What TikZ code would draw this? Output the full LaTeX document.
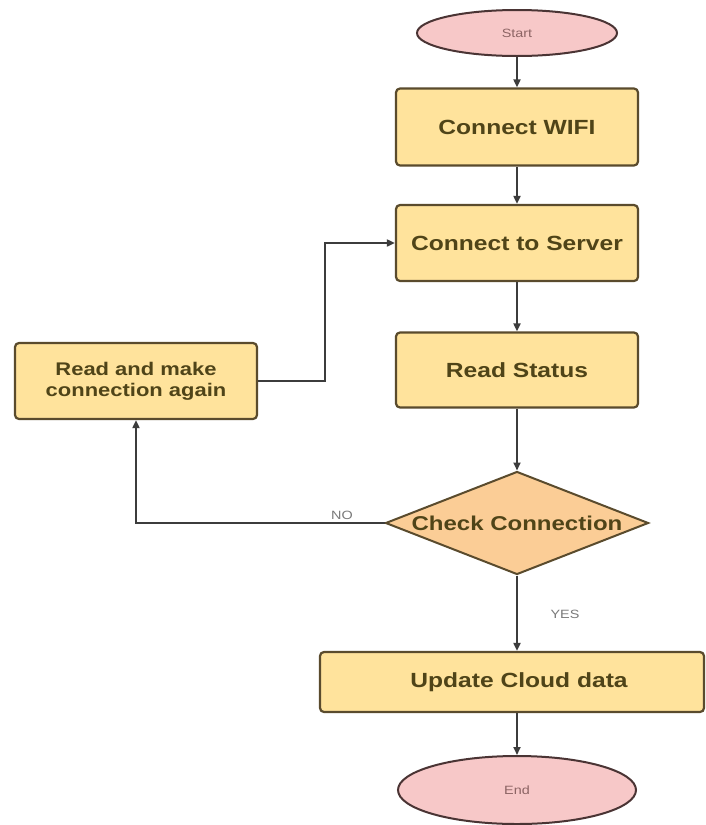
\documentclass[tikz,border=0pt]{standalone}
\usepackage{fontspec}
\setmainfont{Liberation Sans}[FakeStretch=1.2]
\usetikzlibrary{shapes.geometric,arrows.meta}
\definecolor{boxfill}{HTML}{FFE39C}
\definecolor{boxdraw}{HTML}{5A4B2D}
\definecolor{boxtext}{HTML}{4F4418}
\definecolor{termfill}{HTML}{F7C8C8}
\definecolor{termdraw}{HTML}{4A3434}
\definecolor{termtext}{HTML}{8C6464}
\definecolor{decfill}{HTML}{FBCD96}
\definecolor{conncol}{HTML}{3C3C3C}
\definecolor{lblcol}{HTML}{7A7A7A}
\begin{document}
\begin{tikzpicture}[x=1pt,y=-1pt,
  procbox/.style={draw=boxdraw, fill=boxfill, line width=2.2pt, rounded corners=4pt, inner sep=0pt,
    minimum width=242pt, minimum height=77pt, text=boxtext, font=\fontsize{20.5}{24}\selectfont\bfseries},
  termnode/.style={ellipse, draw=termdraw, fill=termfill, line width=2pt, inner sep=0pt,
    text=termtext, font=\fontsize{12}{14}\selectfont},
  decnode/.style={diamond, draw=boxdraw, fill=decfill, line width=2pt, inner sep=0pt},
  bigtext/.style={text=boxtext, font=\fontsize{20.5}{24}\selectfont\bfseries},
  conn/.style={draw=conncol, line width=1.8pt, -{Triangle[length=8pt,width=7pt]}},
  lbl/.style={text=lblcol, font=\fontsize{12}{14}\selectfont}]
\fill[white] (0,0) rectangle (706,825);
\useasboundingbox (0,0) rectangle (706,825);

\node[termnode, minimum width=200pt, minimum height=46pt] (start) at (517,33) {Start};
\node[procbox] (wifi) at (517,127) {Connect WIFI};
\node[procbox, minimum height=76pt] (server) at (517,243) {Connect to Server};
\node[procbox, minimum height=75pt] (status) at (517,370) {Read Status};
\node[procbox, minimum height=76pt, align=center, font=\fontsize{18.3}{21}\selectfont\bfseries] (again) at (136,381) {Read and make\\connection again};
\node[decnode, minimum width=263pt, minimum height=103pt] (check) at (517,523) {};
\node[bigtext, font=\fontsize{20}{24}\selectfont\bfseries] (checkt) at (check.center) {Check Connection};
\node[procbox, minimum width=384pt, minimum height=60pt] (update) at (512,682) {};
\node[bigtext] (updatet) at (519,682) {Update Cloud data};
\node[termnode, minimum width=238pt, minimum height=68pt] (end) at (517,790) {End};

\coordinate (elbow) at (325,0);

\draw[conn] (start) -- (wifi);
\draw[conn] (wifi) -- (server);
\draw[conn] (server) -- (status);
\draw[conn] (status) -- (check);
\draw[conn] (check.south) -- (check.south |- update.north);
\draw[conn] (end.north |- update.south) -- (end.north);
\draw[conn] (check.west) -| (again.south);
\draw[conn] (again.east) -- (again.east -| elbow) |- (server.west);

\node[lbl] (no) at (342,515) {NO};
\node[lbl] (yes) at (565,614) {YES};
\end{tikzpicture}
\end{document}
